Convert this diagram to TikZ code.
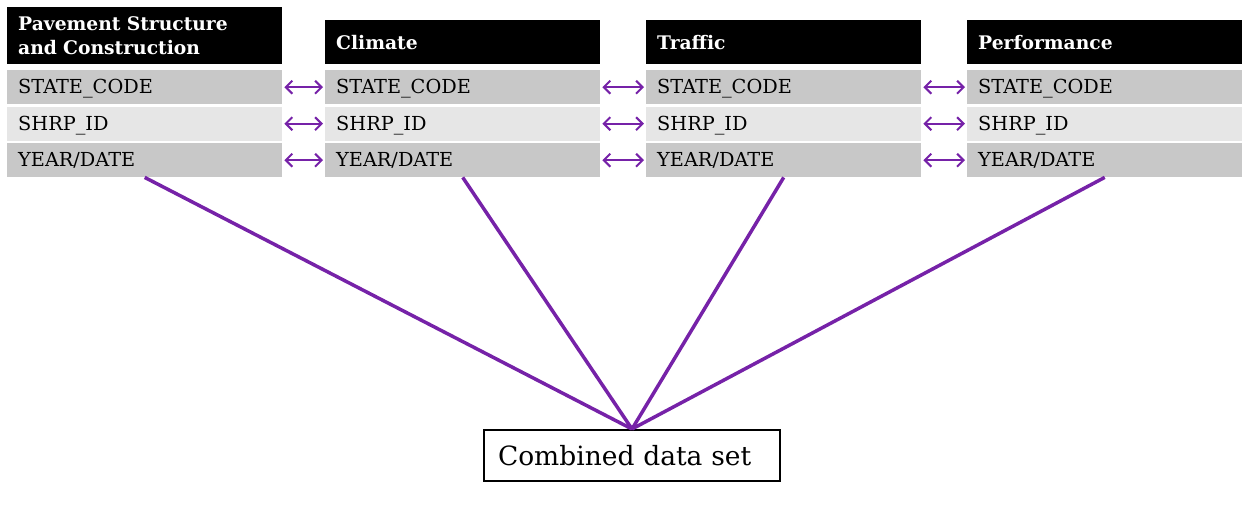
\documentclass[tikz,border=0pt]{standalone}
\usepackage{fontspec}
\setmainfont{DejaVu Serif}
\usetikzlibrary{arrows.meta}
\definecolor{linkpurple}{RGB}{118,34,168}
\definecolor{rowdark}{RGB}{200,200,200}
\definecolor{rowlight}{RGB}{230,230,230}
\tikzset{
  cell/.style={anchor=north west, text width=253pt, inner xsep=11pt, inner ysep=0pt,
    minimum height=34pt, align=left, font=\fontsize{19.3}{21}\selectfont, text=black,
    text depth=1pt},
  darkrow/.style={cell, fill=rowdark},
  lightrow/.style={cell, fill=rowlight},
  header/.style={anchor=north west, text width=253pt, inner xsep=11pt, inner ysep=0pt,
    minimum height=44pt, align=left, fill=black, text=white,
    font=\bfseries\fontsize{18.7}{24}\selectfont},
  keylink/.style={linkpurple, line width=2pt,
    {Straight Barb[length=6.5pt,width=13pt]}-{Straight Barb[length=6.5pt,width=13pt]},
    shorten <=2pt, shorten >=2pt},
  merge/.style={linkpurple, line width=3.5pt},
  result/.style={draw=black, line width=2pt, fill=white, text width=268pt, inner xsep=14pt,
    minimum height=51pt, align=left, font=\fontsize{26.5}{30}\selectfont}
}
\begin{document}
\begin{tikzpicture}[x=1pt,y=1pt]
\useasboundingbox (0,0) rectangle (1247,-514);

% table headers
\node[header, minimum height=57pt] (h1) at (7,-7) {Pavement Structure\\and Construction};
\node[header] (h2) at (325,-20) {Climate};
\node[header] (h3) at (646,-20) {Traffic};
\node[header] (h4) at (967,-20) {Performance};

% key rows of each table
\foreach \i/\x in {1/7, 2/325, 3/646, 4/967} {
  \node[darkrow]  (s\i) at (\x,-70)  {STATE\_CODE};
  \node[lightrow] (r\i) at (\x,-106.5) {SHRP\_ID};
  \node[darkrow]  (y\i) at (\x,-143) {YEAR/DATE};
}

% joins between neighbouring tables
\foreach \a/\b in {1/2, 2/3, 3/4} {
  \draw[keylink] (s\a.east) -- (s\b.west);
  \draw[keylink] (r\a.east) -- (r\b.west);
  \draw[keylink] (y\a.east) -- (y\b.west);
}

% merged result
\node[result, anchor=north west] (comb) at (483,-429) {Combined data set};
\foreach \i in {1,2,3,4}
  \draw[merge] (y\i.south) -- (comb.north);
\end{tikzpicture}
\end{document}
